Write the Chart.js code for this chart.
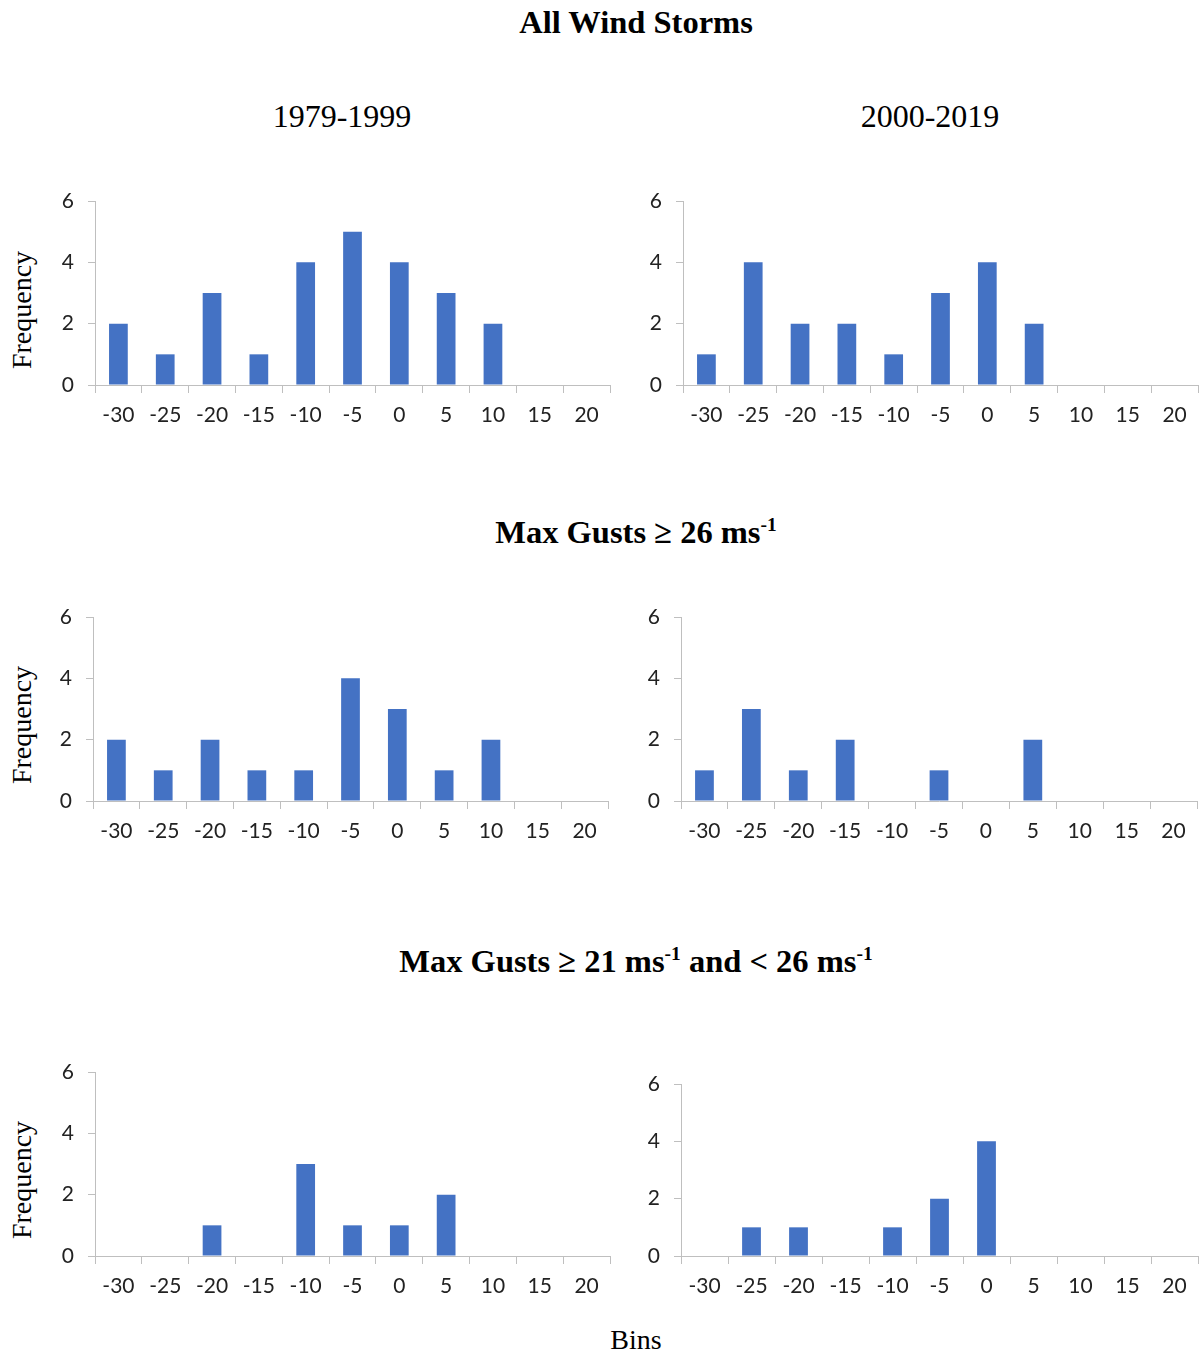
<!DOCTYPE html>
<html>
<head>
<meta charset="utf-8">
<script src="https://cdn.jsdelivr.net/npm/chart.js@4.4.1/dist/chart.umd.min.js"></script>
<style>
  body { margin: 0; background: #fff; }
  #page { position: relative; width: 1203px; height: 1355px; overflow: hidden; }
  .txt { position: absolute; font-family: "Liberation Serif", "Times New Roman", serif; color: #000; white-space: nowrap; transform: translate(-50%, -50%); }
  .bold { font-weight: bold; font-size: 32.5px; }
  .sub { font-size: 32px; }
  .freq { font-size: 28px; transform: translate(-50%, -50%) rotate(-90deg); }
  sup { font-size: 60%; line-height: 0; }
  .box { position: absolute; }
</style>
</head>
<body>
<div id="page">
  <div class="txt bold" style="left:636px; top:22px;">All Wind Storms</div>
  <div class="txt sub" style="left:342px; top:116px;">1979-1999</div>
  <div class="txt sub" style="left:930px; top:116px;">2000-2019</div>
  <div class="txt bold" style="left:636px; top:532px;">Max Gusts ≥ 26 ms<sup>-1</sup></div>
  <div class="txt bold" style="left:636px; top:961px;">Max Gusts ≥ 21 ms<sup>-1</sup> and &lt; 26 ms<sup>-1</sup></div>
  <div class="txt freq" style="left:22px; top:310px;">Frequency</div>
  <div class="txt freq" style="left:22px; top:725px;">Frequency</div>
  <div class="txt freq" style="left:22px; top:1180px;">Frequency</div>
  <div class="txt" style="left:636px; top:1340px; font-size:28px;">Bins</div>
</div>
<script>
const bins = ["-30", "-25", "-20", "-15", "-10", "-5", "0", "5", "10", "15", "20"];
const yTicks = [0, 2, 4, 6];

const allStorms1979 = [2, 1, 3, 1, 4, 5, 4, 3, 2, 0, 0];
const allStorms2000 = [1, 4, 2, 2, 1, 3, 4, 2, 0, 0, 0];
const gust26_1979 = [2, 1, 2, 1, 1, 4, 3, 1, 2, 0, 0];
const gust26_2000 = [1, 3, 1, 2, 0, 1, 0, 2, 0, 0, 0];
const gust21_1979 = [0, 0, 1, 0, 3, 1, 1, 2, 0, 0, 0];
const gust21_2000 = [0, 1, 1, 0, 1, 2, 4, 0, 0, 0, 0];

const pageEl = document.getElementById("page");
const axisColor = "#bfbfbf";
const tickFont = { family: "Lato, 'Open Sans', sans-serif", size: 21 };
const yAxisW = 50;
const xAxisH = 50;
const padTop = 14;
const padRight = 6;

// left, top, right, bottom of the plot area
function makeChart(values, left, top, right, bottom) {
    const boxEl = document.createElement("div");
    boxEl.className = "box";
    const w = (right - left) + yAxisW + padRight;
    const h = (bottom - top) + padTop + xAxisH;
    boxEl.style.left = (left - yAxisW) + "px";
    boxEl.style.top = (top - padTop) + "px";
    boxEl.style.width = w + "px";
    boxEl.style.height = h + "px";
    const canvasEl = document.createElement("canvas");
    boxEl.appendChild(canvasEl);
    pageEl.appendChild(boxEl);

    new Chart(canvasEl, {
        type: "bar",
        data: {
            labels: bins,
            datasets: [{
                data: values,
                backgroundColor: "#4472c4",
                borderWidth: 0,
                barPercentage: 0.4,
                categoryPercentage: 1
            }]
        },
        options: {
            responsive: true,
            maintainAspectRatio: false,
            animation: false,
            layout: { padding: { top: padTop, right: padRight, left: 0, bottom: 0 } },
            plugins: { legend: { display: false }, tooltip: { enabled: false } },
            scales: {
                x: {
                    offset: true,
                    grid: { offset: true, drawOnChartArea: false, color: axisColor, tickLength: 8 },
                    border: { display: true, color: axisColor, width: 1 },
                    ticks: { color: "#222", padding: 10, maxRotation: 0, autoSkip: false, font: tickFont },
                    afterFit: (scale) => {
                        scale.height = xAxisH;
                        scale.paddingLeft = 0;
                        scale.paddingRight = 0;
                    }
                },
                y: {
                    min: 0,
                    max: 6,
                    afterBuildTicks: (scale) => { scale.ticks = yTicks.map(v => ({ value: v })); },
                    grid: { drawOnChartArea: false, color: axisColor, tickLength: 7 },
                    border: { display: true, color: axisColor, width: 1 },
                    ticks: { color: "#222", padding: 14, font: tickFont },
                    afterFit: (scale) => {
                        scale.width = yAxisW;
                        scale.paddingTop = 0;
                        scale.paddingBottom = 0;
                    }
                }
            }
        }
    });
}

makeChart(allStorms1979, 95, 201, 610, 385);
makeChart(allStorms2000, 683, 201, 1198, 385);
makeChart(gust26_1979, 93, 617, 608, 801);
makeChart(gust26_2000, 681, 617, 1197, 801);
makeChart(gust21_1979, 95, 1072, 610, 1256);
makeChart(gust21_2000, 681, 1084, 1198, 1256);
</script>
</body>
</html>
